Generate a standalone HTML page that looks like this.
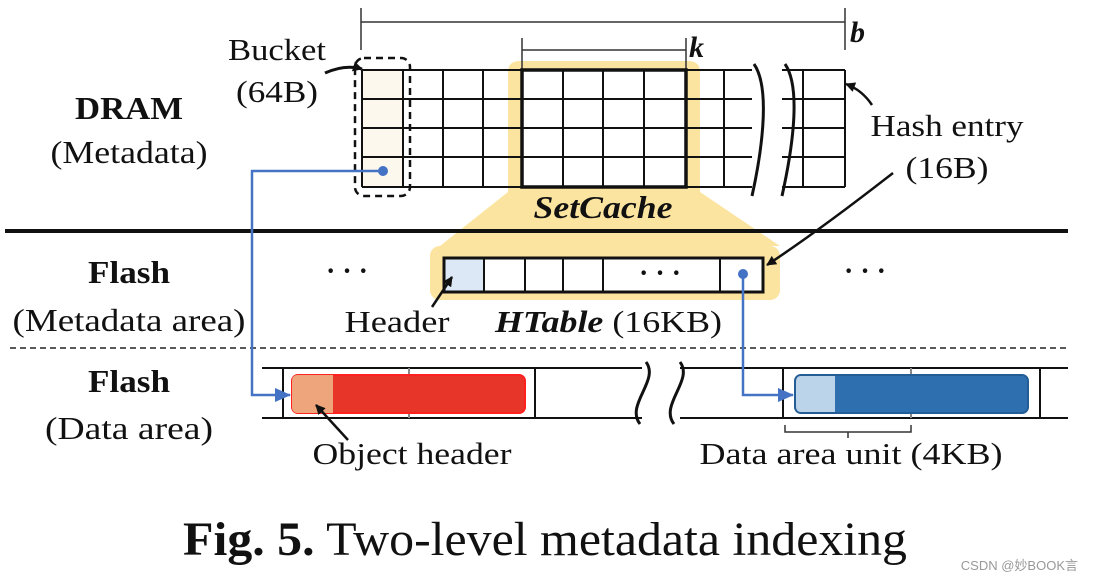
<!DOCTYPE html>
<html><head><meta charset="utf-8"><style>
html,body{margin:0;padding:0;background:#fff;}
svg{display:block;}
text{font-family:"Liberation Serif",serif;fill:#111;}
</style></head><body>
<svg width="1094" height="582" viewBox="0 0 1094 582" xmlns="http://www.w3.org/2000/svg">
<defs>
<marker id="ab" markerWidth="10" markerHeight="10" refX="9" refY="5" orient="auto" markerUnits="userSpaceOnUse"><path d="M0,0 L10,5 L0,10z" fill="#111"/></marker>
<marker id="bb" markerWidth="16" markerHeight="14" refX="15" refY="7" orient="auto" markerUnits="userSpaceOnUse"><path d="M0,0 L16,7 L0,14z" fill="#4472c4"/></marker>
</defs>
<!-- yellow highlight -->
<path d="M508,72 Q508,61 520,61 L688,61 Q700,61 700,72 L700,192 L780,246 L440,246 L508,192 Z" fill="#fbe3a0"/>
<rect x="430" y="246" width="350" height="54" rx="10" fill="#fbe3a0"/>
<rect x="522" y="70" width="164" height="117" fill="#fff"/>
<rect x="444" y="258" width="319" height="34" fill="#fff"/>
<!-- b bracket -->
<path d="M361,8 V50 M361,22 H845 M845,8 V50" stroke="#333" stroke-width="1.5" fill="none"/>
<text x="850" y="42" font-size="30" font-weight="bold" font-style="italic">b</text>
<path d="M522,38 V72 M522,50 H686 M686,38 V72" stroke="#333" stroke-width="1.5" fill="none"/>
<text x="689" y="57" font-size="30" font-weight="bold" font-style="italic">k</text>
<!-- bucket bg -->
<rect x="362" y="70" width="41" height="117" fill="#fdf8ee"/>
<!-- grid -->
<g stroke="#111" stroke-width="2" fill="none">
<path d="M362,70 H752 M362,99 H752 M362,128 H752 M362,157 H752 M362,187 H752"/>
<path d="M782,70 H845 M782,99 H845 M782,128 H845 M782,157 H845 M782,187 H845"/>
<path d="M362,70 V187 M403,70 V187 M443,70 V187 M483,70 V187 M563,70 V187 M603,70 V187 M644,70 V187 M724,70 V187 M803,70 V187 M845,70 V187"/>
<rect x="522" y="70" width="164" height="117" stroke-width="3.5"/>
</g>
<path d="M754,64 C772,90 760,160 752,196" stroke="#111" stroke-width="3" fill="none"/>
<path d="M785,64 C803,90 790,160 782,196" stroke="#111" stroke-width="3" fill="none"/>
<!-- bucket dashed -->
<rect x="355" y="58" width="55" height="138" rx="9" fill="none" stroke="#111" stroke-width="2.5" stroke-dasharray="7,5"/>
<text x="277" y="60" font-size="31" text-anchor="middle" textLength="98" lengthAdjust="spacingAndGlyphs">Bucket</text>
<text x="277" y="102" font-size="31" text-anchor="middle" textLength="82" lengthAdjust="spacingAndGlyphs">(64B)</text>
<path d="M325,73 Q345,64 362,69" stroke="#111" stroke-width="3" fill="none" marker-end="url(#ab)"/>
<text x="947" y="136" font-size="31" text-anchor="middle" textLength="153" lengthAdjust="spacingAndGlyphs">Hash entry</text>
<text x="947" y="178" font-size="31" text-anchor="middle" textLength="83" lengthAdjust="spacingAndGlyphs">(16B)</text>
<path d="M872,105 Q862,90 846,84" stroke="#111" stroke-width="2.5" fill="none" marker-end="url(#ab)"/>
<path d="M893,173 Q820,230 767,265" stroke="#111" stroke-width="2.5" fill="none" marker-end="url(#ab)"/>
<text x="603" y="218" font-size="32" font-weight="bold" font-style="italic" text-anchor="middle" textLength="139" lengthAdjust="spacingAndGlyphs">SetCache</text>
<!-- divider lines -->
<rect x="5" y="229" width="1063" height="4" fill="#111"/>
<line x1="10" y1="348" x2="1068" y2="348" stroke="#222" stroke-width="1.5" stroke-dasharray="6,4"/>
<!-- left labels -->
<g font-size="32" text-anchor="middle">
<text x="129" y="119" font-weight="bold" textLength="108" lengthAdjust="spacingAndGlyphs">DRAM</text>
<text x="129" y="163" textLength="157" lengthAdjust="spacingAndGlyphs">(Metadata)</text>
<text x="129" y="283" font-weight="bold" textLength="82" lengthAdjust="spacingAndGlyphs">Flash</text>
<text x="129" y="331" textLength="233" lengthAdjust="spacingAndGlyphs">(Metadata area)</text>
<text x="129" y="392" font-weight="bold" textLength="82" lengthAdjust="spacingAndGlyphs">Flash</text>
<text x="129" y="439" textLength="168" lengthAdjust="spacingAndGlyphs">(Data area)</text>
</g>
<!-- HTable -->
<rect x="444" y="258" width="40" height="34" fill="#dce8f5"/>
<g stroke="#111" stroke-width="2" fill="none">
<rect x="444" y="258" width="319" height="34" stroke-width="3"/>
<path d="M484,258 V292 M525,258 V292 M563,258 V292 M603,258 V292 M720,258 V292"/>
</g>
<text x="660" y="282" font-size="28" text-anchor="middle" font-weight="bold">· · ·</text>
<text x="347" y="280" font-size="28" text-anchor="middle" font-weight="bold">· · ·</text>
<text x="865" y="280" font-size="28" text-anchor="middle" font-weight="bold">· · ·</text>
<text x="397" y="332" font-size="31" text-anchor="middle" textLength="105" lengthAdjust="spacingAndGlyphs">Header</text>
<text x="495" y="332" font-size="31" textLength="227" lengthAdjust="spacingAndGlyphs"><tspan font-weight="bold" font-style="italic">HTable</tspan> (16KB)</text>
<path d="M432,307 L452,277" stroke="#111" stroke-width="2.5" fill="none" marker-end="url(#ab)"/>
<!-- data row -->
<g stroke="#111" stroke-width="2" fill="none">
<path d="M262,368 H642 M262,418 H642 M680,368 H1068 M680,418 H1068"/>
<path d="M283,368 V418 M535,368 V418 M783,368 V418 M1040,368 V418"/>
<path d="M409,368 V375 M409,412 V418 M911,368 V375 M911,412 V418" stroke="#888"/>
</g>
<rect x="642" y="360" width="38" height="66" fill="#fff"/>
<path d="M646,362 C660,380 625,405 640,424" stroke="#111" stroke-width="3" fill="none"/>
<path d="M680,362 C694,380 659,405 674,424" stroke="#111" stroke-width="3" fill="none"/>
<rect x="292" y="375" width="233" height="38" rx="6" fill="#e8352a" stroke="#ff2020" stroke-width="2"/>
<path d="M298,375 H333 V413 H298 Q292,413 292,407 V381 Q292,375 298,375Z" fill="#eea57c"/>
<rect x="795" y="375" width="233" height="38" rx="6" fill="#2e6fb0" stroke="#245d96" stroke-width="2"/>
<path d="M801,376 H835 V412 H801 Q796,412 796,406 V382 Q796,376 801,376Z" fill="#bcd4ea"/>
<path d="M785,425 V432 H911 V425 M848,432 V438" stroke="#333" stroke-width="1.5" fill="none"/>
<text x="412" y="464" font-size="31" text-anchor="middle" textLength="199" lengthAdjust="spacingAndGlyphs">Object header</text>
<text x="851" y="464" font-size="31" text-anchor="middle" textLength="303" lengthAdjust="spacingAndGlyphs">Data area unit (4KB)</text>
<path d="M348,440 L316,405" stroke="#111" stroke-width="2.5" fill="none" marker-end="url(#ab)"/>
<!-- blue connectors -->
<g stroke="#4472c4" stroke-width="2.5" fill="none">
<path d="M383,171 H252 V395 H290" marker-end="url(#bb)"/>
<path d="M743,274 V395 H793" marker-end="url(#bb)"/>
</g>
<circle cx="383" cy="171" r="5" fill="#4472c4"/>
<circle cx="743" cy="274" r="5" fill="#4472c4"/>
<!-- caption -->
<text x="545" y="555" font-size="48" text-anchor="middle" textLength="724" lengthAdjust="spacingAndGlyphs"><tspan font-weight="bold">Fig. 5.</tspan> Two-level metadata indexing</text>
<text x="1078" y="570" font-size="13" text-anchor="end" style="font-family:'Liberation Sans','Noto Sans CJK SC',sans-serif;fill:#999">CSDN @妙BOOK言</text>
</svg>
</body></html>
